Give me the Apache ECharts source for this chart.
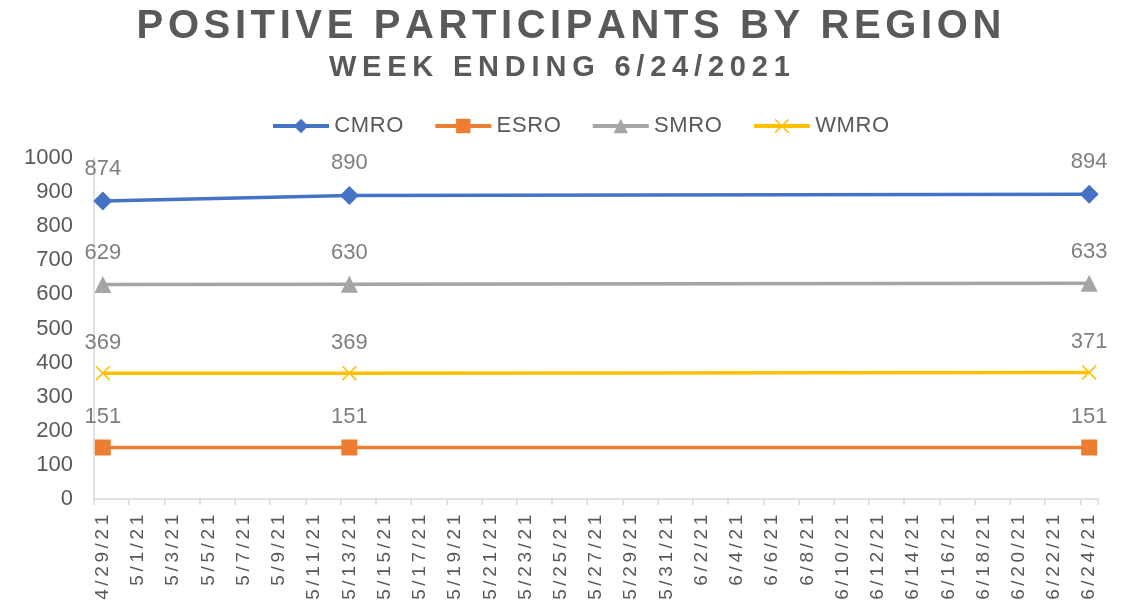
<!DOCTYPE html>
<html>
<head>
<meta charset="utf-8">
<script src="https://cdn.jsdelivr.net/npm/echarts@6/dist/echarts.min.js"></script>
<style>
  html, body { margin: 0; padding: 0; background: #fff; }
  #chart { width: 1138px; height: 608px; }
</style>
</head>
<body>
<div id="chart"></div>
<script>
// one category per day, 4/29/21 .. 6/24/21
var dates = [];
(function () {
    var d = new Date(2021, 3, 29);
    var end = new Date(2021, 5, 24);
    while (d <= end) {
        dates.push((d.getMonth() + 1) + '/' + d.getDate() + '/21');
        d.setDate(d.getDate() + 1);
    }
})();

var pointDates = ['4/29/21', '5/13/21', '6/24/21'];
var cmro = [874, 890, 894];
var esro = [151, 151, 151];
var smro = [629, 630, 633];
var wmro = [369, 369, 371];

var FONT = 'Liberation Sans';

// wraps every character in a rich token so the spacing can be widened
function spaced(str) {
    return str.split('').map(function (c) { return '{s|' + c + '}'; }).join('');
}

function pairs(vals) {
    return pointDates.map(function (d, i) { return [d, vals[i]]; });
}

var crossPath = 'path://M1.5,0L10,8.5L18.5,0L20,1.5L11.5,10L20,18.5L18.5,20L10,11.5L1.5,20L0,18.5L8.5,10L0,1.5Z';

function line(name, vals, color, symbol, size) {
    return {
        name: name,
        type: 'line',
        data: pairs(vals),
        symbol: symbol,
        symbolSize: size,
        showAllSymbol: true,
        lineStyle: { color: color, width: 3.5 },
        itemStyle: { color: color },
        label: {
            show: true,
            position: 'top',
            distance: 12,
            color: '#7f7f7f',
            fontSize: 22,
            fontFamily: FONT
        },
        emphasis: { disabled: true }
    };
}

var myChart = echarts.init(document.getElementById('chart'));
var option = {
    animation: false,
    title: [{
        text: spaced('POSITIVE PARTICIPANTS BY REGION'),
        left: 'center',
        top: 2,
        textStyle: {
            rich: { s: { fontSize: 40, fontWeight: 'bold', color: '#595959', fontFamily: FONT, padding: [0, 2.3, 0, 2.3] } }
        }
    }, {
        text: spaced('WEEK ENDING 6/24/2021'),
        left: 321,
        top: 48,
        textStyle: {
            rich: { s: { fontSize: 29, fontWeight: 'bold', color: '#595959', fontFamily: FONT, padding: [0, 2.9, 0, 2.9] } }
        }
    }],
    legend: {
        top: 110,
        left: 266,
        itemWidth: 56,
        itemHeight: 18,
        itemGap: 30,
        lineStyle: { width: 4 },
        formatter: function (name) { return spaced(name); },
        textStyle: {
            rich: { s: { fontSize: 22, color: '#595959', fontFamily: FONT, padding: [0, 0.3, 0, 0.3] } }
        },
        data: ['CMRO', 'ESRO', 'SMRO', 'WMRO']
    },
    grid: { left: 94, right: 40, top: 158, bottom: 109, containLabel: false },
    xAxis: {
        type: 'category',
        data: dates,
        boundaryGap: true,
        axisLine: { lineStyle: { color: '#d9d9d9', width: 1.5 } },
        axisTick: { show: true, interval: 1, length: 6, lineStyle: { color: '#d9d9d9', width: 1.5 } },
        axisLabel: {
            interval: 1,
            rotate: 90,
            margin: 14,
            formatter: function (v) { return spaced(v); },
            rich: { s: { fontSize: 19, color: '#595959', fontFamily: FONT, padding: [0, 1.8, 0, 1.8] } }
        },
        splitLine: { show: false }
    },
    yAxis: {
        type: 'value',
        min: 0,
        max: 1000,
        interval: 100,
        axisLine: { show: true, lineStyle: { color: '#d9d9d9', width: 1.5 } },
        axisTick: { show: false },
        splitLine: { show: false },
        axisLabel: {
            color: '#595959',
            fontSize: 22,
            fontFamily: FONT,
            margin: 21,
            formatter: function (v) { return String(v); }
        }
    },
    series: [
        line('CMRO', cmro, '#4472C4', 'diamond', 19),
        line('ESRO', esro, '#ED7D31', 'rect', 16),
        line('SMRO', smro, '#A5A5A5', 'triangle', 17),
        line('WMRO', wmro, '#FFC000', crossPath, 15)
    ]
};
myChart.setOption(option);
</script>
</body>
</html>
